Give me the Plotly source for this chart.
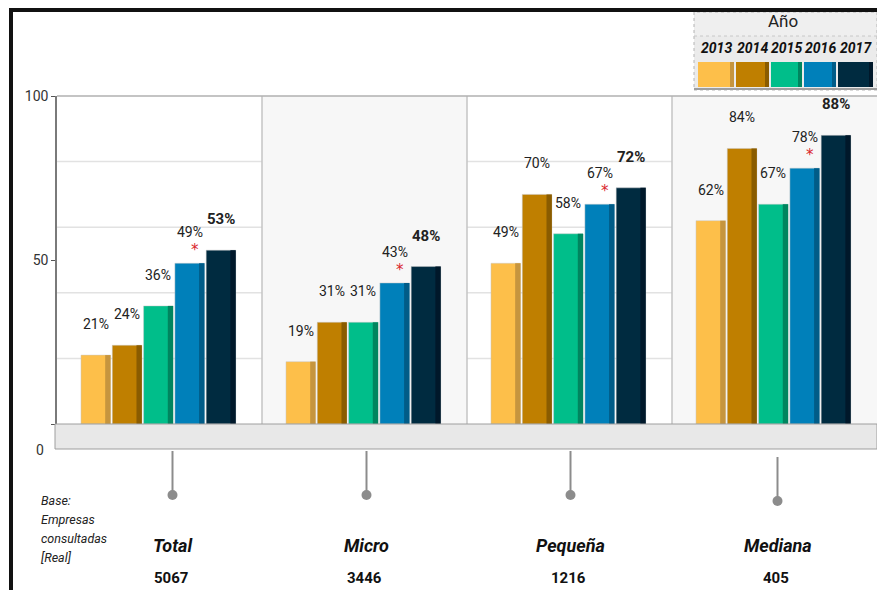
import plotly.graph_objects as go

# ---------------- data ----------------
categories = ["Total", "Micro", "Pequeña", "Mediana"]
bases = ["5067", "3446", "1216", "405"]
years = ["2013", "2014", "2015", "2016", "2017"]
v2013 = [21, 19, 49, 62]
v2014 = [24, 31, 70, 84]
v2015 = [36, 31, 58, 67]
v2016 = [49, 43, 67, 78]
v2017 = [53, 48, 72, 88]
series = [v2013, v2014, v2015, v2016, v2017]
star_year = "2016"  # significant change marker

colors = ["#FDBF4A", "#BF7F00", "#00BE8A", "#0080BA", "#002B40"]
shades = ["#C6953E", "#8A5C00", "#00855F", "#005C88", "#00182A"]

W, H = 877, 590
L, R, T, B = 57, 0, 96, 166
PW = W - L - R
PH = H - T - B
FONT = "Roboto, Liberation Sans, sans-serif"


def px(xp):
    return (xp - L) / PW


def py(yp):
    return (H - B - yp) / PH


xs = list(range(len(categories)))
bar_w = 0.144
step = 0.1527
off0 = -0.383
shade_w = 0.026

fig = go.Figure()
for i, (yr, vals) in enumerate(zip(years, series)):
    off = off0 + step * i
    fig.add_trace(go.Bar(
        x=xs, y=vals, width=bar_w, offset=off, name=yr,
        marker=dict(color=colors[i], line=dict(width=0.6, color="rgba(200,200,200,0.8)")),
        showlegend=False, hoverinfo="x+y"))
    fig.add_trace(go.Bar(
        x=xs, y=vals, width=shade_w, offset=off + bar_w - shade_w,
        marker=dict(color=shades[i], line=dict(width=0)),
        showlegend=False, hoverinfo="skip"))

annotations = []
for i, (yr, vals) in enumerate(zip(years, series)):
    off = off0 + step * i
    for c, v in zip(xs, vals):
        annotations.append(dict(
            x=c + off + bar_w / 2, y=v, xref="x", yref="y", yshift=31,
            xanchor="center", yanchor="middle",
            text=(f"<b>{v}%</b>" if yr == "2017" else f"{v}%"),
            showarrow=False,
            font=dict(family=FONT, size=(15 if yr == "2017" else 14), color="#222222")))
        if yr == star_year:
            annotations.append(dict(
                x=c + off + bar_w / 2, y=v, xref="x", yref="y", yshift=13, xshift=5,
                xanchor="center", yanchor="middle",
                text="*", showarrow=False,
                font=dict(family="DejaVu Sans", size=15, color="#D9262B")))

# category labels and bases below the floor
label_shift = [13, 2, 1, 3]
for c, name, base, sh in zip(xs, categories, bases, label_shift):
    annotations.append(dict(x=c, y=py(545), xref="x", yref="paper", xshift=sh,
                            xanchor="center", yanchor="middle",
                            text=f"<b><i>{name}</i></b>", showarrow=False,
                            font=dict(family=FONT, size=18, color="#111111")))
    annotations.append(dict(x=c, y=py(578), xref="x", yref="paper", xshift=sh - 2,
                            xanchor="center", yanchor="middle",
                            text=f"<b>{base}</b>", showarrow=False,
                            font=dict(family=FONT, size=15, color="#111111")))

# "Base" note
for txt, yy in zip(["Base:", "Empresas", "consultadas", "[Real]"], [500, 519, 538, 557]):
    annotations.append(dict(x=px(39), y=py(yy), xref="paper", yref="paper",
                            xanchor="left", yanchor="middle",
                            text=f"<i>{txt}</i>", showarrow=False,
                            font=dict(family=FONT, size=12.5, color="#222222")))

# zero label (drawn under the floor)
annotations.append(dict(x=px(46), y=py(450), xref="paper", yref="paper",
                        xanchor="right", yanchor="middle",
                        text="0", showarrow=False,
                        font=dict(family=FONT, size=14, color="#333333")))

# legend (custom)
annotations.append(dict(x=px(783), y=py(21), xref="paper", yref="paper",
                        xanchor="center", yanchor="middle",
                        text="Año", showarrow=False,
                        font=dict(family=FONT, size=17, color="#222222")))
leg_x = [(698, 734), (736, 769), (771, 802), (804, 836), (838, 873)]
for (a, b), yr in zip(leg_x, years):
    annotations.append(dict(x=px((a + b) / 2), y=py(48), xref="paper", yref="paper",
                            xanchor="center", yanchor="middle",
                            text=f"<b><i>{yr}</i></b>", showarrow=False,
                            font=dict(family=FONT, size=14, color="#111111")))

shapes = []
# panel backgrounds
for c in xs:
    if c % 2 == 1:
        shapes.append(dict(type="rect", xref="x", yref="y", x0=c - 0.5, x1=c + 0.5,
                           y0=0, y1=100, fillcolor="#F7F7F7", line=dict(width=0), layer="below"))
# separators
for c in xs[:-1]:
    shapes.append(dict(type="line", xref="x", yref="y", x0=c + 0.5, x1=c + 0.5,
                       y0=0, y1=100, line=dict(color="#C4C4C4", width=1.5), layer="below"))
# top border of plot area
shapes.append(dict(type="line", xref="paper", yref="paper", x0=0, x1=1, y0=1, y1=1,
                   line=dict(color="#B0B0B0", width=1.5)))
# floor
shapes.append(dict(type="rect", xref="paper", yref="paper", x0=px(55), x1=1.0,
                   y0=py(449), y1=py(424), fillcolor="#E8E8E8",
                   line=dict(color="#9E9E9E", width=1)))
# stems and dots
stem_top = [451, 451, 451, 457]
stem_bot = [495, 495, 495, 501]
for c, sh, t0, b0 in zip(xs, label_shift, stem_top, stem_bot):
    xcp = L + (c + 0.5) * PW / len(categories) + sh
    shapes.append(dict(type="line", xref="paper", yref="paper", x0=px(xcp), x1=px(xcp),
                       y0=py(t0), y1=py(b0), line=dict(color="#8C8C8C", width=2)))
    shapes.append(dict(type="circle", xref="paper", yref="paper",
                       x0=px(xcp - 5), x1=px(xcp + 5),
                       y0=py(b0 - 5), y1=py(b0 + 5),
                       fillcolor="#8C8C8C", line=dict(width=0)))
# legend box
shapes.append(dict(type="rect", xref="paper", yref="paper", x0=px(694), x1=px(877),
                   y0=py(90), y1=py(12), fillcolor="#EBEBEB",
                   line=dict(color="#B5B5B5", width=1, dash="dot")))
shapes.append(dict(type="rect", xref="paper", yref="paper", x0=px(695), x1=px(876),
                   y0=py(36), y1=py(13), fillcolor="#EFEFEF",
                   line=dict(width=0)))
shapes.append(dict(type="line", xref="paper", yref="paper", x0=px(694), x1=px(877),
                   y0=py(36), y1=py(36), line=dict(color="#C8C8C8", width=1, dash="dot")))
shapes.append(dict(type="line", xref="paper", yref="paper", x0=px(694), x1=px(877),
                   y0=py(89), y1=py(89), line=dict(color="#9E9E9E", width=2)))
for (a, b), col, sc in zip(leg_x, colors, shades):
    shapes.append(dict(type="rect", xref="paper", yref="paper", x0=px(a), x1=px(b),
                       y0=py(87), y1=py(62), fillcolor=col, line=dict(width=0)))
    shapes.append(dict(type="rect", xref="paper", yref="paper", x0=px(b - 4), x1=px(b),
                       y0=py(87), y1=py(62), fillcolor=sc, line=dict(width=0)))
# black frame (top and left)
shapes.append(dict(type="line", xref="paper", yref="paper", x0=px(11), x1=px(877),
                   y0=py(10), y1=py(10), line=dict(color="#111111", width=4)))
shapes.append(dict(type="line", xref="paper", yref="paper", x0=px(11), x1=px(11),
                   y0=py(8), y1=py(592), line=dict(color="#111111", width=4)))

fig.update_layout(
    width=W, height=H,
    margin=dict(l=L, r=R, t=T, b=B),
    paper_bgcolor="white", plot_bgcolor="white",
    barmode="overlay",
    showlegend=False,
    xaxis=dict(range=[-0.5, len(categories) - 0.5], showticklabels=False,
               showgrid=False, zeroline=False, showline=True, linecolor="#7A7A7A",
               linewidth=1.5, ticks="", fixedrange=True),
    yaxis=dict(range=[0, 100], tickvals=[0, 50, 100], ticktext=["", "50", "100"],
               ticks="outside", ticklen=4, tickcolor="#555555",
               showline=True, linecolor="#7A7A7A", linewidth=1.5,
               showgrid=False, zeroline=False,
               tickfont=dict(family=FONT, size=14, color="#333333")),
    shapes=shapes,
    annotations=annotations,
)
# horizontal gridlines at 20, 40, 60, 80
for g in [20, 40, 60, 80]:
    fig.add_shape(type="line", xref="paper", yref="y", x0=0, x1=1, y0=g, y1=g,
                  line=dict(color="#E2E2E2", width=1.5), layer="below")

fig.write_html("out.html")
